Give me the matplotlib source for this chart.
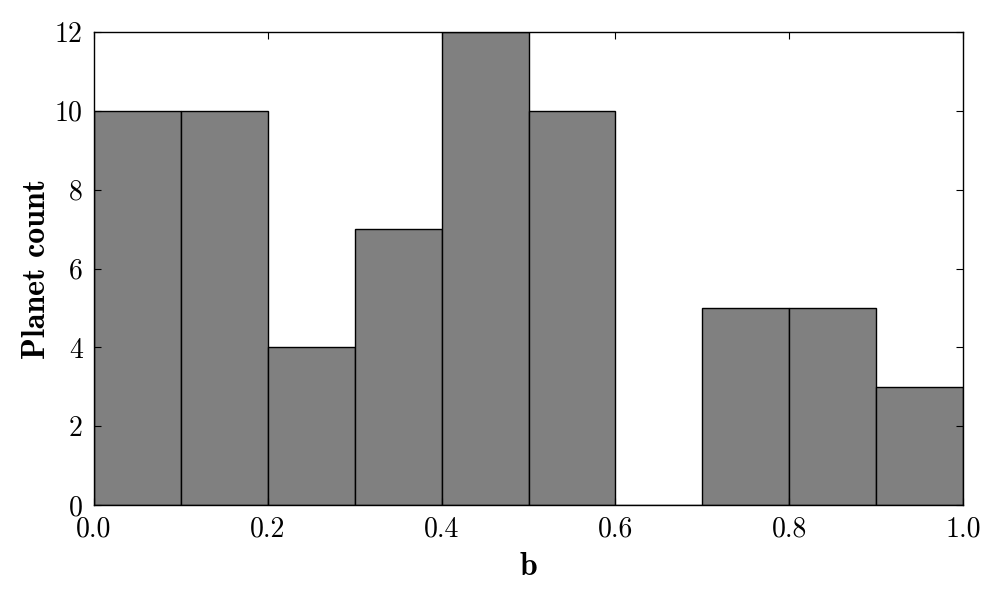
import numpy as np
import matplotlib
matplotlib.use("Agg")
import matplotlib.pyplot as plt

# --- Datos del histograma ---
bin_edges = [0.0, 0.1, 0.2, 0.3, 0.4, 0.5, 0.6, 0.7, 0.8, 0.9, 1.0]
counts = [10, 10, 4, 7, 12, 10, 0, 5, 5, 3]
x_ticks = [0.0, 0.2, 0.4, 0.6, 0.8, 1.0]
y_ticks = [0, 2, 4, 6, 8, 10, 12]

plt.rcParams["font.family"] = ["cmr10", "DejaVu Serif"]
plt.rcParams["mathtext.fontset"] = "cm"
plt.rcParams["axes.unicode_minus"] = False

fig = plt.figure(figsize=(10, 6), dpi=100)
ax = fig.add_axes([0.094, 0.1583, 0.869, 0.7884])

centros = 0.5 * (np.array(bin_edges[:-1]) + np.array(bin_edges[1:]))
ax.hist(centros, bins=bin_edges, weights=counts,
        color="#808080", edgecolor="black", linewidth=1.0)

ax.set_xlim(0, 1)
ax.set_ylim(0, 12)
ax.set_xticks(x_ticks)
ax.set_yticks(y_ticks)
ax.set_xticklabels([f"{v:.1f}" for v in x_ticks])
ax.set_yticklabels([str(v) for v in y_ticks])
ax.tick_params(direction="in", top=True, right=True, length=5,
               labelsize=20, pad=8)
for s in ax.spines.values():
    s.set_linewidth(1.0)

ax.set_xlabel("b", fontsize=23, family=["cmb10", "DejaVu Serif"], labelpad=7)
ax.set_ylabel("Planet count", fontsize=23, family=["cmb10", "DejaVu Serif"],
              labelpad=3)

fig.savefig("out.png", dpi=100)
